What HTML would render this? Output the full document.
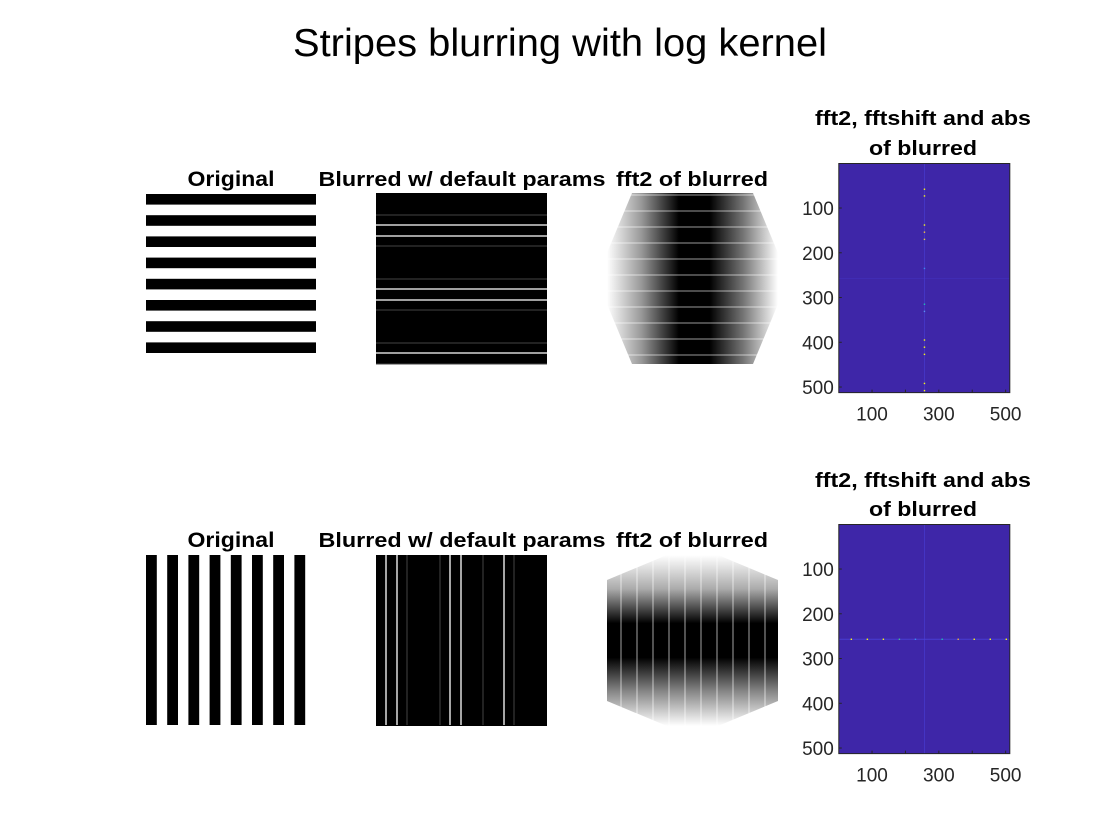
<!DOCTYPE html>
<html><head><meta charset="utf-8"><style>
html,body{margin:0;padding:0;background:#fff;}
svg{display:block;font-family:"Liberation Sans",Arial,sans-serif;}
</style></head><body>
<svg id="fig" width="1120" height="840" viewBox="0 0 1120 840">
<defs>
<linearGradient id="gh" x1="0" x2="1" y1="0" y2="0">
<stop offset="0" stop-color="#fff"/><stop offset="0.2" stop-color="#999"/><stop offset="0.42" stop-color="#000"/><stop offset="0.6" stop-color="#000"/><stop offset="0.8" stop-color="#777"/><stop offset="1" stop-color="#fff"/>
</linearGradient>
<linearGradient id="gv" x1="0" x2="0" y1="0" y2="1">
<stop offset="0" stop-color="#fff"/><stop offset="0.2" stop-color="#aaa"/><stop offset="0.4" stop-color="#000"/><stop offset="0.6" stop-color="#000"/><stop offset="0.8" stop-color="#888"/><stop offset="1" stop-color="#fff"/>
</linearGradient>
</defs>
<text x="560" y="56" text-anchor="middle" font-size="39" fill="#000" textLength="534" lengthAdjust="spacingAndGlyphs">Stripes blurring with log kernel</text>
<g id="plots"></g>
</svg>
<script>
const ns='http://www.w3.org/2000/svg';
const g=document.getElementById('plots');
function mk(tag,attrs,parent){const e=document.createElementNS(ns,tag);for(const k in attrs)e.setAttribute(k,attrs[k]);(parent||g).appendChild(e);return e;}
// data
const stripeCount=8;
const topBlurWhite=[225,236,289,300,353];
const topBlurGray=[215,246,279,310,343,364];
const botBlurWhite=[386,397,450,461,504];
const botBlurGray=[407,440,483,514];
const topPeakRows=[58,73,138,154,170,235,315,331,395,411,427,492,508];
const topPeakColors=['#f9fb0e','#f9fb0e','#f9fb0e','#f5c43a','#e0d040','#3a8cf0','#20c0b0','#5a90f0','#f9fb0e','#f9fb0e','#f9fb0e','#f9fb0e','#f9fb0e'];
const botPeakCols=[38,86,134,182,230,310,358,406,454,502];
const botPeakColors=['#f9fb0e','#f9fb0e','#f9fb0e','#40c090','#3a8cf0','#20c0b0','#f5b040','#f9fb0e','#f9fb0e','#f9fb0e'];
const tickVals=[100,200,300,400,500];
const xTickVals=[100,300,500];
const rows=[{y0:193,hy:163.5,title1:125,title2:155,sub:186,horiz:true},{y0:555,hy:524.5,title1:487,title2:516,sub:547,horiz:false}];

rows.forEach((r,ri)=>{
  let t;
  t=mk('text',{x:231,y:r.sub,'text-anchor':'middle','font-size':21,'font-weight':'bold',textLength:87,lengthAdjust:'spacingAndGlyphs'});t.textContent='Original';
  
  
  t=mk('text',{x:462,y:r.sub,'text-anchor':'middle','font-size':20,'font-weight':'bold',textLength:287,lengthAdjust:'spacingAndGlyphs'});t.textContent='Blurred w/ default params';
  
  
  t=mk('text',{x:692,y:r.sub,'text-anchor':'middle','font-size':20,'font-weight':'bold',textLength:152,lengthAdjust:'spacingAndGlyphs'});t.textContent='fft2 of blurred';
  
  
  for(let i=0;i<stripeCount;i++){
    let s;
    if(r.horiz) s=mk('rect',{x:146,y:194+i*21.2,width:170,height:10.6,fill:'#000'});
    else s=mk('rect',{x:146+i*21.2,y:555,width:10.8,height:170,fill:'#000'});
    
    
  }
  let b=mk('rect',{x:376,y:r.y0,width:171,height:171,fill:'#000'});
  
  
  (r.horiz?topBlurGray:botBlurGray).forEach(v=>{
    let l=r.horiz?mk('line',{x1:376,x2:547,y1:v,y2:v,stroke:'#444','stroke-width':1}):mk('line',{y1:555,y2:725,x1:v,x2:v,stroke:'#444','stroke-width':1});
    
    
  });
  (r.horiz?topBlurWhite:botBlurWhite).forEach(v=>{
    let l=r.horiz?mk('line',{x1:376,x2:547,y1:v,y2:v,stroke:'#fff','stroke-width':1.3}):mk('line',{y1:555,y2:725,x1:v,x2:v,stroke:'#fff','stroke-width':1.3});
    
    
  });
  let f=mk('rect',{x:607,y:r.y0,width:171,height:171,fill:r.horiz?'url(#gh)':'url(#gv)'});
  
  
  const x0=607,y0=r.y0,x1=778,y1=r.y0+171;
  let corners;
  if(r.horiz) corners=[[x0,y0,x0+25,y0,x0,y0+60],[x1,y0,x1-25,y0,x1,y0+60],[x0,y1,x0+25,y1,x0,y1-60],[x1,y1,x1-25,y1,x1,y1-60]];
  else corners=[[x0,y0,x0+60,y0,x0,y0+25],[x1,y0,x1-60,y0,x1,y0+25],[x0,y1,x0+60,y1,x0,y1-25],[x1,y1,x1-60,y1,x1,y1-25]];
  corners.forEach(c=>{let p=mk('polygon',{points:c[0]+','+c[1]+' '+c[2]+','+c[3]+' '+c[4]+','+c[5],fill:'#fff'});
    
    });
  for(let i=0;i<12;i++){
    let l=r.horiz?mk('line',{x1:x0,x2:x1,y1:y0+2+i*16,y2:y0+2+i*16,stroke:'#fff','stroke-width':0.8,opacity:0.8}):mk('line',{y1:y0,y2:y1,x1:x0+14+i*16,x2:x0+14+i*16,stroke:'#fff','stroke-width':0.8,opacity:0.8});
    
    
  }
  const hx0=838.8, sx=0.334, sy=0.4475;
  const X=u=>hx0+(u-0.5)*sx, Y=u=>r.hy+(u-0.5)*sy;
  t=mk('text',{x:923,y:r.title1,'text-anchor':'middle','font-size':20,'font-weight':'bold',textLength:216,lengthAdjust:'spacingAndGlyphs'});t.textContent='fft2, fftshift and abs';
  
  
  t=mk('text',{x:923,y:r.title2,'text-anchor':'middle','font-size':20,'font-weight':'bold',textLength:108,lengthAdjust:'spacingAndGlyphs'});t.textContent='of blurred';
  
  
  let h=mk('rect',{x:X(0.5),y:Y(0.5),width:X(512.5)-X(0.5),height:Y(512.5)-Y(0.5),fill:'#3e26a8'});
  
  
  let cl=mk('line',{x1:X(257),x2:X(257),y1:Y(0.5),y2:Y(512.5),stroke:'#4a40d8','stroke-width':0.8,opacity:0.7});
  
  
  let rl=mk('line',{x1:X(0.5),x2:X(512.5),y1:Y(257),y2:Y(257),stroke:'#4a40d8','stroke-width':r.horiz?0.6:1,opacity:r.horiz?0.4:0.9});
  
  
  if(r.horiz){
    topPeakRows.forEach((v,i)=>{let c=mk('rect',{x:X(257)-0.7,y:Y(v)-0.7,width:1.4,height:1.4,fill:topPeakColors[i]});
      
      });
  } else {
    botPeakCols.forEach((v,i)=>{let c=mk('rect',{x:X(v)-0.7,y:Y(257)-0.7,width:1.4,height:1.4,fill:botPeakColors[i]});
      
      });
  }
  let fr=mk('rect',{x:X(0.5),y:Y(0.5),width:X(512.5)-X(0.5),height:Y(512.5)-Y(0.5),fill:'none',stroke:'#262626','stroke-width':1});
  
  
  tickVals.forEach(v=>{
    let tk=mk('line',{x1:X(0.5),x2:X(0.5)+3,y1:Y(v),y2:Y(v),stroke:'#262626'});
    
    
    let tl=mk('text',{x:X(0.5)-5,y:Y(v)+7,'text-anchor':'end','font-size':19,fill:'#262626'});tl.textContent=v;
    
    
  });
  [100,200,300,400,500].forEach(v=>{
    let tk=mk('line',{x1:X(v),x2:X(v),y1:Y(512.5),y2:Y(512.5)-3,stroke:'#262626'});
    
    
  });
  xTickVals.forEach(v=>{
    let tl=mk('text',{x:X(v),y:Y(512.5)+28,'text-anchor':'middle','font-size':19,fill:'#262626'});tl.textContent=v;
    
    
  });
});
</script>
</body></html>
